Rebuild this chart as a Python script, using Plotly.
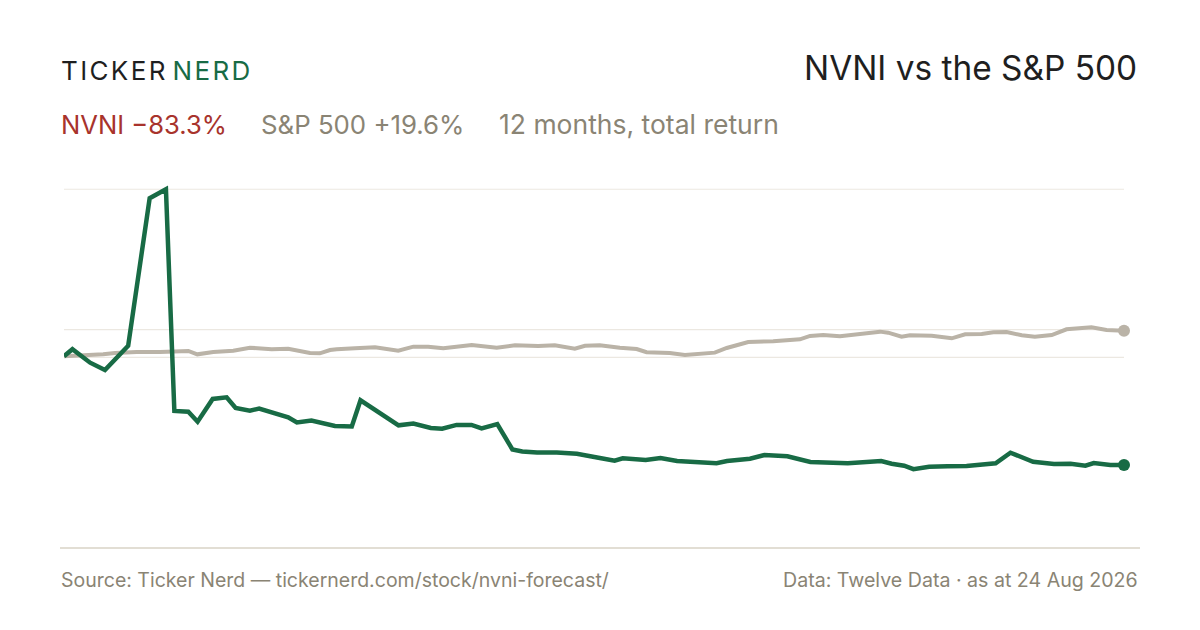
import pandas as pd
import plotly.graph_objects as go

# 12 month total return, % change from start
start_date = "2025-08-24"

nvni_days = [0, 2.9, 9.0, 14.1, 22.1, 29.5, 35.1, 38.0, 42.8, 46.0, 51.2, 56.0, 59.1, 64.0,
             67.2, 77.2, 80.2, 85.2, 93.3, 99.1, 102.1, 115.2, 120.3, 126.3, 130.2, 135.2,
             140.3, 143.8, 149.2, 154.4, 157.8, 162.9, 169.7, 176.6, 184.5, 189.6, 192.4,
             200.3, 205.4, 211.1, 224.7, 228.3, 236.2, 241.2, 249.1, 257.0, 269.9, 275.6,
             281.4, 285.0, 289.3, 292.5, 297.9, 304.3, 310.8, 320.8, 325.9, 333.7, 340.9,
             346.6, 351.7, 354.6, 360.3, 365]
nvni_ret = [0, 5.4, -4.9, -10.5, 8.1, 121.1, 128.0, -41.9, -42.5, -50.1, -32.7, -31.4, -39.6,
            -41.7, -40.0, -46.7, -50.7, -49.3, -53.4, -53.8, -33.7, -52.9, -51.5, -54.9, -55.5,
            -52.6, -52.6, -55.3, -52.0, -71.4, -73.0, -73.7, -73.7, -74.7, -77.9, -80.0, -78.2,
            -79.5, -77.9, -80.2, -82.0, -80.2, -78.5, -75.6, -76.6, -81.0, -82.0, -80.8, -80.2,
            -82.3, -83.8, -86.5, -84.6, -84.3, -84.1, -82.0, -73.9, -80.8, -82.5, -82.3, -83.8,
            -81.8, -83.3, -83.3]

spx_days = [0, 7.2, 13.5, 17.6, 25.0, 33.1, 36.5, 42.8, 45.9, 51.4, 58.3, 64.0, 71.5, 77.2,
            84.7, 88.1, 91.6, 93.9, 100.2, 107.1, 115.1, 120.3, 125.4, 130.6, 140.4, 149.0,
            155.3, 163.3, 169.0, 175.9, 179.4, 184.5, 191.4, 197.2, 200.6, 208.6, 213.8, 224.1,
            228.2, 231.6, 235.6, 244.2, 253.4, 256.9, 261.4, 267.2, 274.1, 281.0, 283.8, 288.4,
            291.3, 298.8, 305.7, 310.3, 316.0, 320.0, 324.6, 329.8, 334.3, 340.1, 345.2, 353.8,
            359.0, 365]
spx_ret = [0, 0.5, 1.5, 2.5, 3.3, 3.3, 3.8, 4.1, 1.5, 3.3, 4.3, 6.6, 5.4, 5.8, 2.5, 2.3, 4.8,
           5.4, 6.1, 6.9, 4.3, 7.4, 7.4, 6.1, 8.7, 6.6, 8.4, 7.9, 8.4, 5.8, 8.1, 8.4, 6.6, 5.6,
           3.1, 2.5, 1.0, 2.8, 6.4, 8.4, 11.0, 11.5, 13.0, 15.6, 16.3, 15.3, 17.3, 18.9, 18.1,
           15.0, 16.1, 15.8, 13.8, 16.9, 17.1, 18.4, 18.6, 16.1, 15.0, 16.3, 20.7, 22.2, 20.2,
           19.6]

grid_vals = [-0.8, 20.5, 128.0]

GREEN = "#186b45"
SAND = "#bab3a7"
RED = "#a8332c"
MUTED = "#8a8474"
INK = "#1f1f1f"
FONT = "Inter"

t0 = pd.Timestamp(start_date)
nvni_x = t0 + pd.to_timedelta(nvni_days, unit="D")
spx_x = t0 + pd.to_timedelta(spx_days, unit="D")

# page body adds an 8px offset, so work in screen pixels and shift back
OFF = 8
W, H = 1200, 630
L, R, T, B = 64 - OFF, 76 + OFF, 170 - OFF, 100 + OFF
PW, PH = W - L - R, H - T - B


def px(x):
    return (x - OFF - L) / PW


def py(y):
    return (H - B - (y - OFF)) / PH


fig = go.Figure()

fig.add_trace(go.Scatter(x=spx_x, y=spx_ret, mode="lines", name="S&P 500",
                         line=dict(color=SAND, width=4), hoverinfo="skip",
                         cliponaxis=False))
fig.add_trace(go.Scatter(x=nvni_x, y=nvni_ret, mode="lines", name="NVNI",
                         line=dict(color=GREEN, width=4.5), hoverinfo="skip",
                         cliponaxis=False))
# end-point dots
fig.add_trace(go.Scatter(x=[spx_x[-1]], y=[spx_ret[-1]], mode="markers",
                         marker=dict(color=SAND, size=12), hoverinfo="skip",
                         cliponaxis=False))
fig.add_trace(go.Scatter(x=[nvni_x[-1]], y=[nvni_ret[-1]], mode="markers",
                         marker=dict(color=GREEN, size=12), hoverinfo="skip",
                         cliponaxis=False))

# gridlines spanning the plot width
for v in grid_vals:
    fig.add_shape(type="line", xref="paper", yref="y", x0=0, x1=1, y0=v, y1=v,
                  line=dict(color="#ece8e1", width=1.2), layer="below")

# footer separator
fig.add_shape(type="line", xref="paper", yref="paper", x0=px(60), x1=px(1140),
              y0=py(548), y1=py(548), line=dict(color="#e2ded4", width=2))

hs = "\u200a"
logo = (f"<span style='color:{INK}'>" + hs.join("TICKER") + "</span>" + hs * 3 +
        f"<span style='color:{GREEN}'>" + hs.join("NERD") + "</span>")

ann = [
    dict(x=px(59), y=py(70), text=logo, xanchor="left", font=dict(size=26)),
    dict(x=px(1139), y=py(68), text="NVNI vs the S&P 500", xanchor="right",
         font=dict(size=33.4, color=INK)),
    dict(x=px(59), y=py(124), text="NVNI \u221283.3%", xanchor="left",
         font=dict(size=25.6, color=RED)),
    dict(x=px(259), y=py(124), text="S&P 500 +19.6%", xanchor="left",
         font=dict(size=25.8, color=MUTED)),
    dict(x=px(497), y=py(124), text="12 months, total return", xanchor="left",
         font=dict(size=26.5, color=MUTED)),
    dict(x=px(59), y=py(580), text="Source: Ticker Nerd \u2014 tickernerd.com/stock/nvni-forecast/",
         xanchor="left", font=dict(size=19.5, color=MUTED)),
    dict(x=px(1140), y=py(580), text="Data: Twelve Data \u00b7 as at 24 Aug 2026",
         xanchor="right", font=dict(size=19.6, color=MUTED)),
]
for a in ann:
    fig.add_annotation(xref="paper", yref="paper", showarrow=False, yanchor="middle", **a)

y_top = (356.3 - 170) / 1.305
y_bot = (356.3 - 530) / 1.305

fig.update_layout(
    width=W, height=H,
    margin=dict(l=L, r=R, t=T, b=B),
    paper_bgcolor="white", plot_bgcolor="white",
    showlegend=False,
    font=dict(family=FONT, color=INK),
    xaxis=dict(visible=False, range=[nvni_x[0], nvni_x[-1]]),
    yaxis=dict(visible=False, range=[y_bot, y_top]),
)

fig.write_html("out.html")
